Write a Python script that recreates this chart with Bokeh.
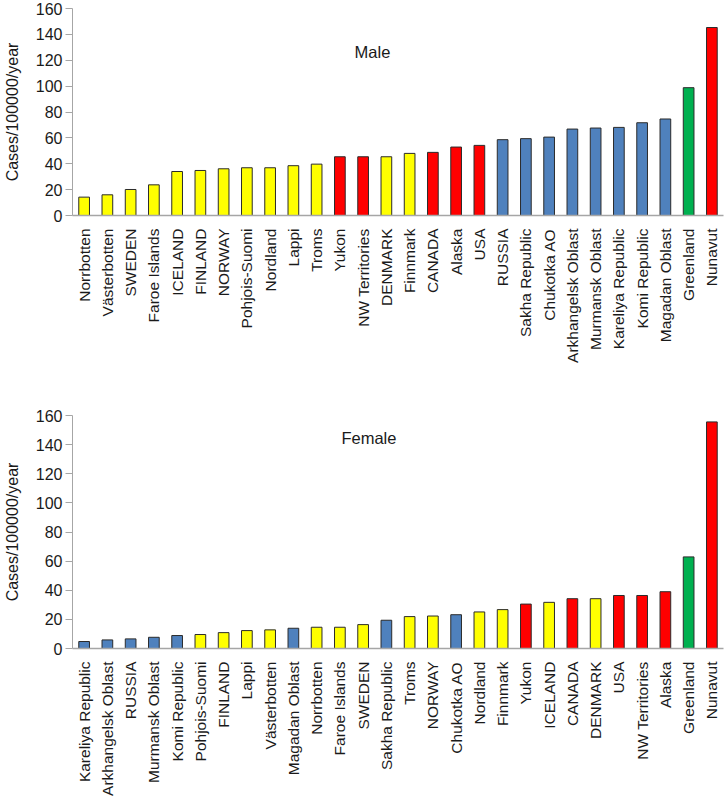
import math
from bokeh.plotting import figure
from bokeh.models import ColumnDataSource, FixedTicker, Label
from bokeh.layouts import column
from bokeh.embed import file_html
from bokeh.resources import INLINE

# ---------------- data ----------------
male_regions = ["Norrbotten", "Västerbotten", "SWEDEN", "Faroe Islands", "ICELAND",
                "FINLAND", "NORWAY", "Pohjois-Suomi", "Nordland", "Lappi", "Troms",
                "Yukon", "NW Territories", "DENMARK", "Finnmark", "CANADA", "Alaska",
                "USA", "RUSSIA", "Sakha Republic", "Chukotka AO", "Arkhangelsk Oblast",
                "Murmansk Oblast", "Kareliya Republic", "Komi Republic", "Magadan Oblast",
                "Greenland", "Nunavut"]
male_values = [14.2, 16.0, 20.1, 23.7, 34.0, 34.8, 36.1, 36.9, 36.9, 38.5, 39.7,
               45.4, 45.4, 45.4, 48.0, 48.8, 52.9, 54.2, 58.6, 59.4, 60.6, 66.8,
               67.6, 68.1, 71.7, 74.6, 98.8, 145.3]

female_regions = ["Kareliya Republic", "Arkhangelsk Oblast", "RUSSIA", "Murmansk Oblast",
                  "Komi Republic", "Pohjois-Suomi", "FINLAND", "Lappi", "Västerbotten",
                  "Magadan Oblast", "Norrbotten", "Faroe Islands", "SWEDEN",
                  "Sakha Republic", "Troms", "NORWAY", "Chukotka AO", "Nordland",
                  "Finnmark", "Yukon", "ICELAND", "CANADA", "DENMARK", "USA",
                  "NW Territories", "Alaska", "Greenland", "Nunavut"]
female_values = [4.8, 5.9, 6.6, 7.7, 8.9, 9.6, 10.9, 12.3, 12.8, 13.9, 14.6, 14.6,
                 16.4, 19.4, 21.9, 22.3, 23.2, 25.1, 26.7, 30.5, 31.7, 34.2, 34.2,
                 36.4, 36.4, 39.0, 62.9, 155.6]

group_of = {
    "Norrbotten": "nordic", "Västerbotten": "nordic", "SWEDEN": "nordic",
    "Faroe Islands": "nordic", "ICELAND": "nordic", "FINLAND": "nordic",
    "NORWAY": "nordic", "Pohjois-Suomi": "nordic", "Nordland": "nordic",
    "Lappi": "nordic", "Troms": "nordic", "DENMARK": "nordic", "Finnmark": "nordic",
    "Yukon": "namerica", "NW Territories": "namerica", "CANADA": "namerica",
    "Alaska": "namerica", "USA": "namerica", "Nunavut": "namerica",
    "RUSSIA": "russia", "Sakha Republic": "russia", "Chukotka AO": "russia",
    "Arkhangelsk Oblast": "russia", "Murmansk Oblast": "russia",
    "Kareliya Republic": "russia", "Komi Republic": "russia",
    "Magadan Oblast": "russia", "Greenland": "greenland",
}
group_colors = {"nordic": "#FFFF00", "namerica": "#FF0000",
                "russia": "#4F81BD", "greenland": "#00B050"}

y_ticks = [0, 20, 40, 60, 80, 100, 120, 140, 160]

FONT = "Liberation Sans"


def make_chart(regions, values, title, title_x, title_y, height, top_border, bottom_border):
    src = ColumnDataSource(dict(
        region=regions,
        value=values,
        color=[group_colors[group_of[r]] for r in regions],
    ))
    p = figure(x_range=regions, y_range=(0, 160), width=724, height=height,
               output_backend="svg", toolbar_location=None,
               min_border_left=69, min_border_right=1,
               min_border_top=top_border, min_border_bottom=bottom_border)
    p.vbar(x="region", top="value", width=0.46, source=src,
           fill_color="color", line_color="#2b2b2b", line_width=1)
    p.outline_line_color = None
    p.background_fill_color = "white"
    p.xgrid.visible = False
    p.ygrid.visible = False

    p.yaxis.ticker = FixedTicker(ticks=y_ticks)
    p.yaxis.axis_label = "Cases/100000/year"
    p.yaxis.axis_label_text_font = FONT
    p.yaxis.axis_label_text_font_style = "normal"
    p.yaxis.axis_label_text_font_size = "16px"
    p.yaxis.axis_label_text_color = "#1a1a1a"
    p.yaxis.axis_label_standoff = 12
    p.yaxis.major_label_text_font = FONT
    p.yaxis.major_label_text_font_size = "16px"
    p.yaxis.major_label_text_color = "#1a1a1a"
    p.yaxis.major_label_standoff = 3
    p.yaxis.major_tick_out = 7
    p.yaxis.major_tick_in = 0
    p.yaxis.minor_tick_line_color = None
    p.yaxis.axis_line_color = "#A6A6A6"
    p.yaxis.major_tick_line_color = "#A6A6A6"

    p.xaxis.major_label_orientation = math.pi / 2
    p.xaxis.major_label_text_font = FONT
    p.xaxis.major_label_text_font_size = "15.5px"
    p.xaxis.major_label_text_color = "#1a1a1a"
    p.xaxis.major_label_standoff = 7
    p.xaxis.major_tick_line_color = None
    p.xaxis.minor_tick_line_color = None
    p.xaxis.axis_line_color = "#A6A6A6"
    p.xaxis.axis_line_width = 1.5

    p.add_layout(Label(x=title_x, y=title_y, text=title, text_font=FONT,
                       text_font_size="16.5px", text_color="#1a1a1a",
                       text_align="center", text_baseline="middle"))
    return p


top = make_chart(male_regions, male_values, "Male", 12.9, 126,
                 height=400, top_border=8, bottom_border=185)
bottom = make_chart(female_regions, female_values, "Female", 12.75, 144.5,
                    height=398, top_border=15, bottom_border=149)

layout = column(top, bottom, spacing=0)
open("out.html", "w").write(file_html(layout, INLINE))
